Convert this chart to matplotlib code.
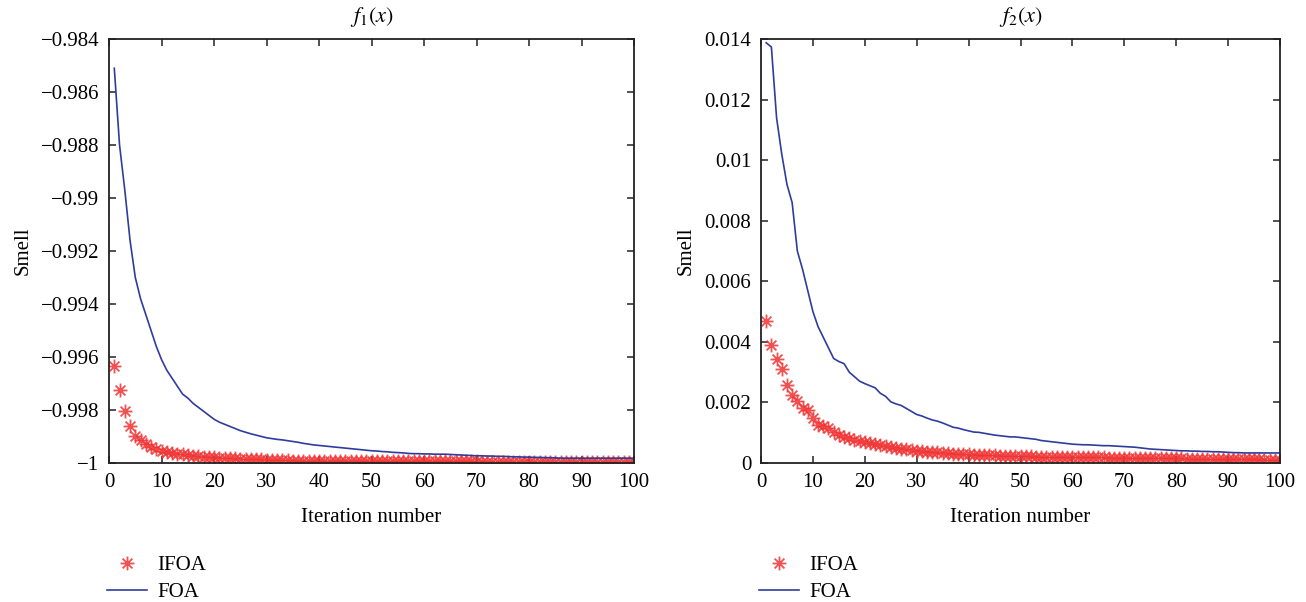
import matplotlib
matplotlib.use('Agg')
import matplotlib.pyplot as plt
from matplotlib.ticker import FuncFormatter, MultipleLocator
from matplotlib.path import Path
import numpy as np

# iteration axis
iters = list(range(1, 101))

# f1(x): smell values
f1_ifoa = [-0.99634, -0.99723, -0.99803, -0.99860, -0.99897, -0.99914, -0.99928, -0.99940, -0.99948, -0.99954,
           -0.99958, -0.99962, -0.99965, -0.99967, -0.99969, -0.99972, -0.99974, -0.99976, -0.99978, -0.99979,
           -0.99980, -0.99981, -0.99982, -0.99983, -0.99984, -0.99985, -0.99986, -0.99987, -0.99987, -0.99988,
           -0.99989, -0.99989, -0.99990, -0.99990, -0.99991, -0.99991, -0.99991, -0.99992, -0.99992, -0.99992,
           -0.99992, -0.99993, -0.99993, -0.99993, -0.99993, -0.99993, -0.99993, -0.99994, -0.99994, -0.99994,
           -0.99994, -0.99994, -0.99994, -0.99994, -0.99994, -0.99994, -0.99994, -0.99994, -0.99994, -0.99994,
           -0.99994, -0.99994, -0.99994, -0.99994, -0.99994, -0.99994, -0.99994, -0.99994, -0.99994, -0.99994,
           -0.99995, -0.99995, -0.99995, -0.99995, -0.99995, -0.99995, -0.99995, -0.99995, -0.99995, -0.99995,
           -0.99995, -0.99995, -0.99995, -0.99995, -0.99995, -0.99995, -0.99995, -0.99995, -0.99995, -0.99995,
           -0.99995, -0.99995, -0.99995, -0.99995, -0.99995, -0.99995, -0.99995, -0.99995, -0.99995, -0.99995]
f1_foa = [-0.98510, -0.98800, -0.98970, -0.99160, -0.99300, -0.99380, -0.99440, -0.99500, -0.99560, -0.99610,
          -0.99650, -0.99680, -0.99710, -0.99740, -0.99755, -0.99775, -0.99790, -0.99805, -0.99820, -0.99835,
          -0.99846, -0.99854, -0.99862, -0.99870, -0.99878, -0.99884, -0.99890, -0.99895, -0.99900, -0.99905,
          -0.99908, -0.99911, -0.99913, -0.99916, -0.99919, -0.99922, -0.99926, -0.99929, -0.99932, -0.99934,
          -0.99936, -0.99938, -0.99940, -0.99942, -0.99944, -0.99946, -0.99948, -0.99950, -0.99952, -0.99954,
          -0.99955, -0.99957, -0.99958, -0.99960, -0.99961, -0.99962, -0.99964, -0.99965, -0.99965, -0.99966,
          -0.99966, -0.99967, -0.99967, -0.99967, -0.99968, -0.99969, -0.99970, -0.99971, -0.99972, -0.99973,
          -0.99973, -0.99974, -0.99974, -0.99975, -0.99975, -0.99976, -0.99977, -0.99977, -0.99978, -0.99978,
          -0.99979, -0.99979, -0.99980, -0.99980, -0.99981, -0.99982, -0.99982, -0.99982, -0.99982, -0.99982,
          -0.99982, -0.99982, -0.99982, -0.99982, -0.99982, -0.99982, -0.99982, -0.99982, -0.99982, -0.99982]

# f2(x)
f2_ifoa = [0.00468, 0.00388, 0.00344, 0.00311, 0.00259, 0.00226, 0.00205, 0.00180, 0.00174, 0.00148,
           0.00125, 0.00121, 0.00114, 0.00103, 0.00092, 0.00085, 0.00081, 0.00077, 0.00072, 0.00068,
           0.00065, 0.00062, 0.00058, 0.00055, 0.00052, 0.00050, 0.00047, 0.00045, 0.00042, 0.00040,
           0.00039, 0.00037, 0.00036, 0.00035, 0.00033, 0.00032, 0.00031, 0.00030, 0.00029, 0.00028,
           0.00027, 0.00027, 0.00026, 0.00026, 0.00025, 0.00024, 0.00024, 0.00023, 0.00023, 0.00022,
           0.00022, 0.00022, 0.00021, 0.00021, 0.00021, 0.00021, 0.00020, 0.00020, 0.00020, 0.00019,
           0.00019, 0.00019, 0.00018, 0.00018, 0.00018, 0.00018, 0.00017, 0.00017, 0.00017, 0.00017,
           0.00016, 0.00016, 0.00016, 0.00016, 0.00016, 0.00015, 0.00015, 0.00015, 0.00015, 0.00015,
           0.00015, 0.00014, 0.00014, 0.00014, 0.00014, 0.00014, 0.00013, 0.00013, 0.00013, 0.00013,
           0.00013, 0.00012, 0.00012, 0.00012, 0.00012, 0.00012, 0.00011, 0.00011, 0.00011, 0.00011]
f2_foa = [0.01388, 0.01374, 0.01140, 0.01020, 0.00920, 0.00860, 0.00700, 0.00640, 0.00570, 0.00500,
          0.00450, 0.00415, 0.00380, 0.00345, 0.00335, 0.00328, 0.00300, 0.00285, 0.00270, 0.00262,
          0.00255, 0.00248, 0.00230, 0.00220, 0.00202, 0.00195, 0.00190, 0.00180, 0.00170, 0.00160,
          0.00155, 0.00148, 0.00142, 0.00138, 0.00132, 0.00125, 0.00118, 0.00115, 0.00110, 0.00106,
          0.00102, 0.00101, 0.00098, 0.00095, 0.00092, 0.00090, 0.00088, 0.00086, 0.00086, 0.00084,
          0.00082, 0.00080, 0.00078, 0.00074, 0.00072, 0.00070, 0.00068, 0.00066, 0.00064, 0.00062,
          0.00061, 0.00060, 0.00060, 0.00059, 0.00058, 0.00057, 0.00057, 0.00056, 0.00055, 0.00054,
          0.00053, 0.00052, 0.00050, 0.00048, 0.00046, 0.00045, 0.00044, 0.00043, 0.00042, 0.00041,
          0.00040, 0.00040, 0.00039, 0.00039, 0.00038, 0.00038, 0.00037, 0.00037, 0.00036, 0.00035,
          0.00034, 0.00034, 0.00033, 0.00033, 0.00033, 0.00033, 0.00033, 0.00033, 0.00033, 0.00033]

titles = ['$f_1(x)$', '$f_2(x)$']
ylims = [(-1.0, -0.984), (0.0, 0.014)]
series = [(f1_ifoa, f1_foa), (f2_ifoa, f2_foa)]

plt.rcParams['font.family'] = ['Liberation Serif', 'DejaVu Serif']
plt.rcParams['mathtext.fontset'] = 'stix'
plt.rcParams['axes.unicode_minus'] = True

RED = '#f03232'
BLUE = '#2e3c9e'
FS = 15

# matlab-like asterisk: plus and cross overlaid
d = 0.7071
asterisk = Path([(-1, 0), (1, 0), (0, -1), (0, 1), (-d, -d), (d, d), (-d, d), (d, -d)],
                [Path.MOVETO, Path.LINETO] * 4)

def fmt(v, pos):
    s = '%g' % round(v, 6)
    return s.replace('-', '\u2212')

fig = plt.figure(figsize=(13.06, 6.02), dpi=100)
rects = [[0.0835, 0.231, 0.402, 0.704], [0.5827, 0.231, 0.3974, 0.704]]

for k in range(2):
    ax = fig.add_axes(rects[k])
    ifoa, foa = series[k]
    ax.plot(iters, ifoa, linestyle='none', marker=asterisk, markersize=10,
            color=RED, markeredgecolor=RED, markeredgewidth=1.3, alpha=0.85, label='IFOA')
    ax.plot(iters, foa, color=BLUE, linewidth=1.2, label='FOA')
    ax.set_xlim(0, 100)
    ax.set_ylim(*ylims[k])
    ax.xaxis.set_major_locator(MultipleLocator(10))
    ax.yaxis.set_major_locator(MultipleLocator(0.002))
    ax.yaxis.set_major_formatter(FuncFormatter(fmt))
    ax.tick_params(direction='in', top=True, right=True, length=5, width=1.1,
                   labelsize=FS, pad=7, color='#222222')
    for sp in ax.spines.values():
        sp.set_linewidth(1.3)
        sp.set_color('#222222')
    ax.set_title(titles[k], fontsize=FS + 1, pad=12)
    ax.set_xlabel('Iteration number', fontsize=FS, labelpad=12)
    ax.set_ylabel('Smell', fontsize=FS, labelpad=6)
    ax.legend(loc='upper left', bbox_to_anchor=(-0.003, -0.219), frameon=False,
              fontsize=FS, handlelength=1.9, handletextpad=0.5, labelspacing=0.35,
              borderaxespad=0, borderpad=0)

fig.savefig('out.png', dpi=100)
